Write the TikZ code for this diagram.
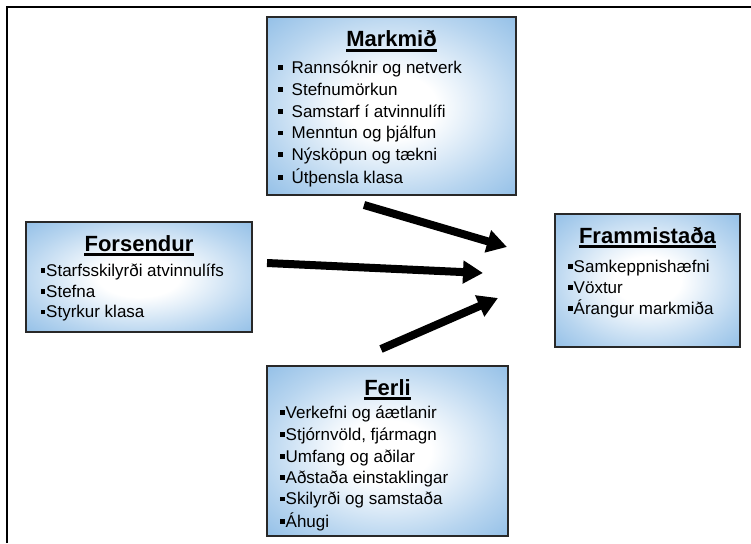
\documentclass[tikz,border=0pt]{standalone}
\usepackage{fontspec}
\setmainfont{Liberation Sans}
\usetikzlibrary{arrows.meta}
\definecolor{boxblue}{RGB}{124,178,226}
\definecolor{boxedge}{RGB}{40,40,40}
\pgfdeclareradialshading{boxshade}{\pgfpoint{0bp}{0bp}}{color(0bp)=(white); color(9bp)=(white); color(26bp)=(boxblue!55!white); color(42bp)=(boxblue); color(100bp)=(boxblue)}
\newcommand{\bul}{\rule[3.3pt]{4.5pt}{4.5pt}}
\tikzset{
  box/.style={draw=boxedge, line width=1.1pt, shading=boxshade, inner sep=0pt},
  ttl/.style={anchor=base, inner sep=0pt, font=\fontsize{22}{24}\selectfont\bfseries},
  itm/.style={anchor=base west, inner sep=0pt, font=\fontsize{17}{20}\selectfont},
  uline/.style={line width=2.3pt},
  bigarrow/.style={line width=8pt, -{Triangle[length=20pt,width=22pt]}},
  frame/.style={line width=2pt}
}
\begin{document}
\begin{tikzpicture}[x=1pt,y=-1pt]
\useasboundingbox (0,0) rectangle (751,543);
\draw[frame] (7,543) -- (7,7) -- (751,7);

% Markmid
\node[box, minimum width=249pt, minimum height=178pt] (mbox) at (391.5,106) {};
\node[ttl] (mt) at (391.5,47) {Markmið};
\draw[uline] ([yshift=-3.5pt]mt.base west) -- ([yshift=-3.5pt]mt.base east);
\node[itm] (m1) at (278,73) {\bul\hspace{9pt}Rannsóknir og netverk};
\node[itm] (m2) at (278,95) {\bul\hspace{9pt}Stefnumörkun};
\node[itm] (m3) at (278,117) {\bul\hspace{9pt}Samstarf í atvinnulífi};
\node[itm] (m4) at (278,138.5) {\bul\hspace{9pt}Menntun og þjálfun};
\node[itm] (m5) at (278,160) {\bul\hspace{9pt}Nýsköpun og tækni};
\node[itm] (m6) at (278,183) {\bul\hspace{9pt}Útþensla klasa};

% Forsendur
\node[box, minimum width=226pt, minimum height=110pt] (fbox) at (139,277) {};
\node[ttl] (ft) at (139,251) {Forsendur};
\draw[uline] ([yshift=-3.5pt]ft.base west) -- ([yshift=-3.5pt]ft.base east);
\node[itm] (f1) at (40.5,276) {\bul\hspace{1pt}Starfsskilyrði atvinnulífs};
\node[itm] (f2) at (40.5,297) {\bul\hspace{1pt}Stefna};
\node[itm] (f3) at (40.5,317.5) {\bul\hspace{1pt}Styrkur klasa};

% Frammistada
\node[box, minimum width=185pt, minimum height=133pt] (pbox) at (647.5,280.5) {};
\node[ttl] (pt) at (647.5,243) {Frammistaða};
\draw[uline] ([yshift=-3.5pt]pt.base west) -- ([yshift=-3.5pt]pt.base east);
\node[itm] (p1) at (568,272) {\bul\hspace{1pt}Samkeppnishæfni};
\node[itm] (p2) at (568,293) {\bul\hspace{1pt}Vöxtur};
\node[itm] (p3) at (568,314) {\bul\hspace{1pt}Árangur markmiða};

% Ferli
\node[box, minimum width=241pt, minimum height=170pt] (lbox) at (387.5,451) {};
\node[ttl] (lt) at (387.5,395) {Ferli};
\draw[uline] ([yshift=-3.5pt]lt.base west) -- ([yshift=-3.5pt]lt.base east);
\node[itm] (l1) at (280,418) {\bul\hspace{1pt}Verkefni og áætlanir};
\node[itm] (l2) at (280,440) {\bul\hspace{1pt}Stjórnvöld, fjármagn};
\node[itm] (l3) at (280,462) {\bul\hspace{1pt}Umfang og aðilar};
\node[itm] (l4) at (280,483) {\bul\hspace{1pt}Aðstaða einstaklingar};
\node[itm] (l5) at (280,504.5) {\bul\hspace{1pt}Skilyrði og samstaða};
\node[itm] (l6) at (280,527) {\bul\hspace{1pt}Áhugi};

% arrows
\coordinate (a1s) at (364,205);
\coordinate (a1e) at (507,247);
\coordinate (a2s) at (267,263);
\coordinate (a2e) at (483,273);
\coordinate (a3s) at (381,349);
\coordinate (a3e) at (498,298);
\draw[bigarrow] (a1s) -- (a1e);
\draw[bigarrow] (a2s) -- (a2e);
\draw[bigarrow] (a3s) -- (a3e);
\end{tikzpicture}
\end{document}
